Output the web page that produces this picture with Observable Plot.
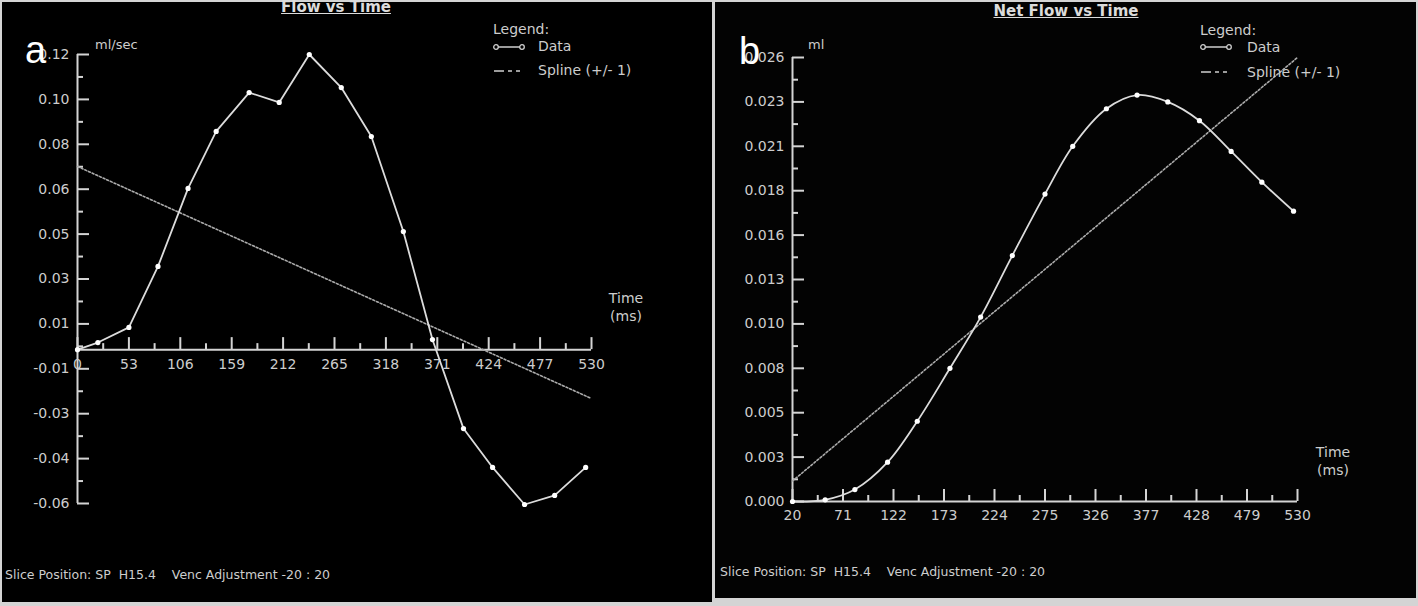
<!DOCTYPE html>
<html><head><meta charset="utf-8">
<script src="https://cdn.jsdelivr.net/npm/d3@7"></script>
<script src="https://cdn.jsdelivr.net/npm/@observablehq/plot@0.6"></script>
<style>
html,body{margin:0;padding:0;background:#000;}
#root{position:relative;width:1418px;height:606px;background:#d4d4d4;overflow:hidden;font-family:"DejaVu Sans",sans-serif;}
.panel{position:absolute;background:#000;overflow:hidden;}
.panel svg{position:absolute;left:0;top:0;display:block;}
.t{position:absolute;color:#cdcdcd;font-size:14px;white-space:pre;line-height:1;}
.title{font-weight:bold;font-size:15px;text-decoration:underline;color:#dcdcdc;transform:translateX(-50%);}
.big{font-family:"Liberation Sans",Arial,sans-serif;font-size:38px;color:#fff;}
.ctr{transform:translateX(-50%);text-align:center;line-height:18px;}
.foot{font-size:12.5px;}
.glyph{position:absolute;}
</style></head><body><div id="root">
<div class="panel" id="pa" style="left:2px;top:2px;width:710px;height:600px"></div>
<div class="panel" id="pb" style="left:715px;top:2px;width:701px;height:596px;background:#030303"></div>

<div class="t title" style="left:336px;top:0px">Flow vs Time</div>
<div class="t title" style="left:1066px;top:4px">Net Flow vs Time</div>
<div class="t big" style="left:25px;top:31px">a</div>
<div class="t big" style="left:739px;top:32px">b</div>
<div class="t" style="left:95px;top:38px;font-size:13px">ml/sec</div>
<div class="t" style="left:808px;top:38px;font-size:13px">ml</div>

<div class="t" style="left:493px;top:22px">Legend:</div>
<svg class="glyph" style="left:492px;top:41px" width="34" height="12"><line x1="4" y1="6" x2="30" y2="6" stroke="#cfcfcf" stroke-width="1.5"/><circle cx="4" cy="6" r="2.3" fill="#000" stroke="#cfcfcf" stroke-width="1.3"/><circle cx="30" cy="6" r="2.3" fill="#000" stroke="#cfcfcf" stroke-width="1.3"/></svg>
<div class="t" style="left:538px;top:39px">Data</div>
<svg class="glyph" style="left:492px;top:65px" width="34" height="12"><line x1="2" y1="6" x2="30" y2="6" stroke="#cfcfcf" stroke-width="1.5" stroke-dasharray="10,4,4,4,4,4"/></svg>
<div class="t" style="left:538px;top:63px">Spline (+/- 1)</div>

<div class="t" style="left:1200px;top:23px">Legend:</div>
<svg class="glyph" style="left:1199px;top:41px" width="34" height="12"><line x1="4" y1="6" x2="30" y2="6" stroke="#cfcfcf" stroke-width="1.5"/><circle cx="4" cy="6" r="2.3" fill="#000" stroke="#cfcfcf" stroke-width="1.3"/><circle cx="30" cy="6" r="2.3" fill="#000" stroke="#cfcfcf" stroke-width="1.3"/></svg>
<div class="t" style="left:1247px;top:40px">Data</div>
<svg class="glyph" style="left:1199px;top:66px" width="34" height="12"><line x1="2" y1="6" x2="30" y2="6" stroke="#cfcfcf" stroke-width="1.5" stroke-dasharray="10,4,4,4,4,4"/></svg>
<div class="t" style="left:1247px;top:65px">Spline (+/- 1)</div>

<div class="t ctr" style="left:626px;top:289px">Time<br>(ms)</div>
<div class="t ctr" style="left:1333px;top:443px">Time<br>(ms)</div>

<div class="t foot" style="left:5px;top:569px">Slice Position: SP  H15.4    Venc Adjustment -20 : 20</div>
<div class="t foot" style="left:720px;top:566px">Slice Position: SP  H15.4    Venc Adjustment -20 : 20</div>
</div>
<script>
// ---------- Panel a: Flow vs Time (ml/sec) ----------
const timeA = [0, 21, 53, 83, 114, 143, 177, 208, 239, 272, 303, 336, 366, 398, 428, 461, 492, 524];
const flowA = [0.000, 0.0028, 0.0088, 0.033, 0.0639, 0.0865, 0.1019, 0.098, 0.117, 0.1039, 0.0845, 0.0468, 0.004, -0.0313, -0.0467, -0.0614, -0.0578, -0.0467];
const splineTimeA = [0, 530];
const splineFlowA = [0.0726, -0.0194];
const xTicksA = [0, 53, 106, 159, 212, 265, 318, 371, 424, 477, 530];
const yTicksA = [0.117, 0.0992, 0.0814, 0.0636, 0.0458, 0.028, 0.0102, -0.0076, -0.0254, -0.0432, -0.061];
const yTickLabelsA = ["0.12", "0.10", "0.08", "0.06", "0.05", "0.03", "0.01", "-0.01", "-0.03", "-0.04", "-0.06"];

// ---------- Panel b: Net Flow vs Time (ml) ----------
const timeB = [20, 53, 83, 116, 146, 179, 210, 242, 275, 303, 337, 368, 399, 431, 463, 494, 526];
const netFlowB = [0.0000, 0.0001, 0.0007, 0.0023, 0.0047, 0.0078, 0.0108, 0.0144, 0.0180, 0.0208, 0.0230, 0.0238, 0.0234, 0.0223, 0.0205, 0.0187, 0.0170];
const splineTimeB = [20, 530];
const splineNetFlowB = [0.0012, 0.0260];
const xTicksB = [20, 71, 122, 173, 224, 275, 326, 377, 428, 479, 530];
const yTicksB = [0, 0.0026, 0.0052, 0.0078, 0.0104, 0.013, 0.0156, 0.0182, 0.0208, 0.0234, 0.026];
const yTickLabelsB = ["0.000", "0.003", "0.005", "0.008", "0.010", "0.013", "0.016", "0.018", "0.021", "0.023", "0.026"];

const fg = "#d4d4d4";
const mids = (arr) => d3.pairs(arr).map(([a, b]) => (a + b) / 2);

function panel({times, values, sTimes, sValues, xTicks, yTicks, yLabels, xDomain, yDomain, size, margins, curve}) {
  const data = times.map((t, i) => ({t, v: values[i]}));
  const spline = sTimes.map((t, i) => ({t, v: sValues[i]}));
  return Plot.plot({
    width: size[0], height: size[1],
    marginLeft: margins[0], marginRight: margins[1], marginTop: margins[2], marginBottom: margins[3],
    style: {background: "transparent", color: fg, fontFamily: "DejaVu Sans, sans-serif", fontSize: "14px", overflow: "visible"},
    x: {domain: xDomain, label: null},
    y: {domain: yDomain, label: null},
    marks: [
      Plot.ruleX([xDomain[0]], {stroke: fg, strokeWidth: 2}),
      Plot.ruleY([0], {stroke: fg, strokeWidth: 2}),
      Plot.axisY({ticks: yTicks, tickSize: 12, dx: 12, fill: "none", stroke: fg, strokeWidth: 2}),
      Plot.axisY({ticks: mids(yTicks), tickSize: 6, dx: 6, fill: "none", stroke: fg, strokeWidth: 2}),
      Plot.axisY({ticks: yTicks, tickSize: 0, tickPadding: 8, fill: "#cdcdcd", tickFormat: d => yLabels[yTicks.indexOf(d)]}),
      Plot.axisX({ticks: xTicks, y: 0, tickSize: 12, dy: -12, fill: "none", stroke: fg, strokeWidth: 2}),
      Plot.axisX({ticks: mids(xTicks), y: 0, tickSize: 6, dy: -6, fill: "none", stroke: fg, strokeWidth: 2}),
      Plot.axisX({ticks: xTicks, y: 0, tickSize: 0, tickPadding: 9, fill: "#cdcdcd", tickFormat: d => String(d)}),
      Plot.line(spline, {x: "t", y: "v", stroke: "#ababab", strokeWidth: 1.6, strokeDasharray: "2,2"}),
      Plot.line(data, {x: "t", y: "v", stroke: "#dcdcdc", strokeWidth: 1.8, curve}),
      Plot.dot(data, {x: "t", y: "v", r: 2.6, fill: "#ffffff"})
    ]
  });
}

document.getElementById("pa").append(panel({
  times: timeA, values: flowA, sTimes: splineTimeA, sValues: splineFlowA,
  xTicks: xTicksA, yTicks: yTicksA, yLabels: yTickLabelsA,
  xDomain: [0, 530], yDomain: [-0.061, 0.117],
  size: [710, 600], margins: [75, 121, 52, 99], curve: "linear"
}));

document.getElementById("pb").append(panel({
  times: timeB, values: netFlowB, sTimes: splineTimeB, sValues: splineNetFlowB,
  xTicks: xTicksB, yTicks: yTicksB, yLabels: yTickLabelsB,
  xDomain: [20, 530], yDomain: [0, 0.026],
  size: [701, 596], margins: [77, 119, 55, 97], curve: "catmull-rom"
}));
</script>
</body></html>
